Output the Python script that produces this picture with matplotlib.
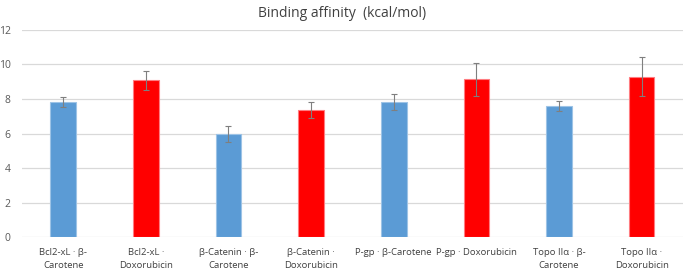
import matplotlib
matplotlib.use("Agg")
import matplotlib.pyplot as plt
import numpy as np

# data
labels = ["Bcl2-xL · β-\nCarotene", "Bcl2-xL ·\nDoxorubicin",
          "β-Catenin · β-\nCarotene", "β-Catenin ·\nDoxorubicin",
          "P-gp · β-Carotene", "P-gp · Doxorubicin",
          "Topo IIα · β-\nCarotene", "Topo IIα ·\nDoxorubicin"]
values = [7.82, 9.08, 5.96, 7.37, 7.82, 9.14, 7.60, 9.29]
errors = [0.28, 0.55, 0.45, 0.48, 0.48, 0.95, 0.27, 1.14]
colors = ["#5B9BD5", "#FF0000"] * 4
edges = ["#9DC3E6", "#FF7C80"] * 4

plt.rcParams['font.family'] = ['Open Sans', 'DejaVu Sans']

fig = plt.figure(figsize=(6.85, 2.75), dpi=100)
ax = fig.add_axes([0.032, 0.138, 0.965, 0.753])

x = np.arange(len(values))
ax.bar(x, values, width=0.31, color=colors, edgecolor=edges, linewidth=0.8, zorder=3)
ax.errorbar(x, values, yerr=errors, fmt='none', ecolor='#7F7F7F',
            elinewidth=0.8, capsize=2.5, capthick=0.8, zorder=4)

ax.set_xlim(-0.5, len(values) - 0.5)
ax.set_ylim(0, 12)
ax.set_yticks(np.arange(0, 13, 2))
ax.set_xticks(x)
ax.set_xticklabels(labels, fontsize=6.8, color='#404040', linespacing=1.6)
ax.tick_params(axis='y', labelsize=7.5, labelcolor='#595959', length=0, pad=8)
ax.tick_params(axis='x', length=0, pad=8)
ax.grid(axis='y', color='#D9D9D9', linewidth=0.9, zorder=0)
for s in ax.spines.values():
    s.set_visible(False)

fig.text(0.5, 0.95, "Binding affinity  (kcal/mol)", ha='center', va='center',
         fontsize=10, color='#404040')

fig.savefig("out.png", dpi=100)
